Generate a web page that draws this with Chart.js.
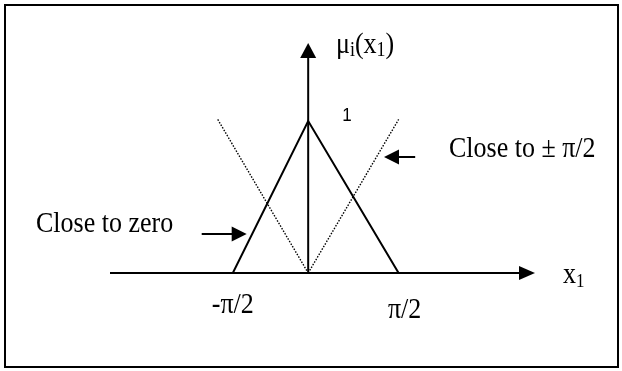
<!DOCTYPE html>
<html>
<head>
<meta charset="utf-8">
<script src="https://cdn.jsdelivr.net/npm/chart.js@4"></script>
<style>
  html, body { margin: 0; padding: 0; background: #fff; }
  #wrap { position: relative; width: 622px; height: 371px; }
</style>
</head>
<body>
<div id="wrap"><canvas id="chart" width="622" height="371"></canvas></div>
<script>
/* ---------------------------------------------------------
   Data (x in units of the -pi/2 half width, y = membership)
--------------------------------------------------------- */
const triangleX = [-1, 0, 1.2];
const triangleY = [0, 1, 0];
const dottedLeftX = [-1.2, 0];
const dottedLeftY = [1.01, 0];
const dottedRightX = [0, 1.2];
const dottedRightY = [0, 1.01];

const xTickValues = [-1, 1.2];
const xTickLabels = ["-\u03c0/2", "\u03c0/2"];
const yTickValues = [1];
const yTickLabels = ["1"];

const xMin = -2.63, xMax = 3.01;
const yMin = 0, yMax = 1.513;

const toPoints = (xs, ys) => xs.map((x, i) => ({ x, y: ys[i] }));

/* ---------------------------------------------------------
   Helpers
--------------------------------------------------------- */
const SERIF = "'Liberation Serif', 'Times New Roman', serif";
const STRETCH = 1.15;

function text(ctx, str, x, y, size, align = "left", font = SERIF, stretch = STRETCH) {
  ctx.save();
  ctx.font = `${size}px ${font}`;
  ctx.textAlign = align;
  ctx.textBaseline = "alphabetic";
  ctx.translate(x, y);
  ctx.scale(1, stretch);
  ctx.fillText(str, 0, 0);
  const w = ctx.measureText(str).width;
  ctx.restore();
  return w;
}

// runs of [string, size, dy] drawn one after another
function richText(ctx, runs, x, y) {
  let cx = x;
  runs.forEach(([str, size, dy]) => {
    cx += text(ctx, str, cx, y + dy, size);
  });
}

function arrowHead(ctx, tipX, tipY, dir, len, half) {
  ctx.beginPath();
  if (dir === "right") {
    ctx.moveTo(tipX, tipY);
    ctx.lineTo(tipX - len, tipY - half);
    ctx.lineTo(tipX - len, tipY + half);
  } else if (dir === "left") {
    ctx.moveTo(tipX, tipY);
    ctx.lineTo(tipX + len, tipY - half);
    ctx.lineTo(tipX + len, tipY + half);
  } else {
    ctx.moveTo(tipX, tipY);
    ctx.lineTo(tipX - half, tipY + len);
    ctx.lineTo(tipX + half, tipY + len);
  }
  ctx.closePath();
  ctx.fill();
}

/* ---------------------------------------------------------
   Axes, arrows and labels
--------------------------------------------------------- */
const diagramPlugin = {
  id: "diagram",
  beforeDatasetsDraw(chart) {
    const { ctx, scales: { x, y } } = chart;
    const x0 = x.getPixelForValue(0);
    const y0 = y.getPixelForValue(0);
    ctx.save();
    ctx.strokeStyle = "#000";
    ctx.fillStyle = "#000";
    ctx.lineWidth = 2;

    // frame
    ctx.strokeRect(5, 5, 613, 362);

    // x axis
    const xEnd = x.getPixelForValue(xMax);
    ctx.beginPath();
    ctx.moveTo(x.getPixelForValue(xMin), y0);
    ctx.lineTo(xEnd - 10, y0);
    ctx.stroke();
    arrowHead(ctx, xEnd, y0, "right", 16, 7);

    // y axis
    const yEnd = y.getPixelForValue(yMax);
    ctx.beginPath();
    ctx.moveTo(x0, y0);
    ctx.lineTo(x0, yEnd + 10);
    ctx.stroke();
    arrowHead(ctx, x0, yEnd, "up", 15, 8);
    ctx.restore();
  },
  afterDatasetsDraw(chart) {
    const { ctx, scales: { x, y } } = chart;
    const y0 = y.getPixelForValue(0);
    ctx.save();
    ctx.fillStyle = "#000";
    ctx.strokeStyle = "#000";
    ctx.lineWidth = 2;

    // tick labels
    const tickDx = [0, 6];
    const tickDy = [40, 45];
    xTickValues.forEach((v, i) => {
      text(ctx, xTickLabels[i], x.getPixelForValue(v) + tickDx[i], y0 + tickDy[i], 26, "center");
    });
    yTickValues.forEach((v, i) => {
      text(ctx, yTickLabels[i], x.getPixelForValue(0) + 34, y.getPixelForValue(v), 17, "left",
        "'Liberation Sans', Arial, sans-serif", 1.1);
    });

    // axis titles
    richText(ctx, [["x", 26, 0], ["1", 17, 4]], 563, y0 + 10);
    richText(ctx, [["\u03bc", 26, 0], ["i", 18, 3], ["(x", 26, 0], ["1", 18, 3], [")", 26, 0]], 336, 53);

    // annotation: close to zero
    const ay1 = y.getPixelForValue(0.257);
    const aTip1 = x.getPixelForValue(-0.816);
    ctx.beginPath();
    ctx.moveTo(x.getPixelForValue(-1.413), ay1);
    ctx.lineTo(aTip1 - 10, ay1);
    ctx.stroke();
    arrowHead(ctx, aTip1, ay1, "right", 15, 7.5);
    text(ctx, "Close to zero", 36, 232, 26);

    // annotation: close to +/- pi/2
    const ay2 = y.getPixelForValue(0.763);
    const aTip2 = x.getPixelForValue(1.006);
    ctx.beginPath();
    ctx.moveTo(x.getPixelForValue(1.42), ay2);
    ctx.lineTo(aTip2 + 10, ay2);
    ctx.stroke();
    arrowHead(ctx, aTip2, ay2, "left", 15, 7.5);
    text(ctx, "Close to \u00b1 \u03c0/2", 449, 157, 26);

    ctx.restore();
  },
};

/* ---------------------------------------------------------
   Chart
--------------------------------------------------------- */
new Chart(document.getElementById("chart"), {
  type: "scatter",
  data: {
    datasets: [
      {
        label: "Close to zero",
        data: toPoints(triangleX, triangleY),
        showLine: true,
        borderColor: "#000",
        borderWidth: 2,
        pointRadius: 0,
        tension: 0,
      },
      {
        label: "Close to -pi/2",
        data: toPoints(dottedLeftX, dottedLeftY),
        showLine: true,
        borderColor: "#000",
        borderWidth: 1.4,
        borderDash: [1.5, 1.5],
        pointRadius: 0,
      },
      {
        label: "Close to pi/2",
        data: toPoints(dottedRightX, dottedRightY),
        showLine: true,
        borderColor: "#000",
        borderWidth: 1.4,
        borderDash: [1.5, 1.5],
        pointRadius: 0,
      },
    ],
  },
  options: {
    responsive: false,
    animation: false,
    devicePixelRatio: 1,
    layout: { padding: { left: 110, right: 87, top: 43, bottom: 98 } },
    plugins: { legend: { display: false }, tooltip: { enabled: false } },
    scales: {
      x: { type: "linear", min: xMin, max: xMax, display: false },
      y: { type: "linear", min: yMin, max: yMax, display: false },
    },
  },
  plugins: [diagramPlugin],
});
</script>
</body>
</html>
